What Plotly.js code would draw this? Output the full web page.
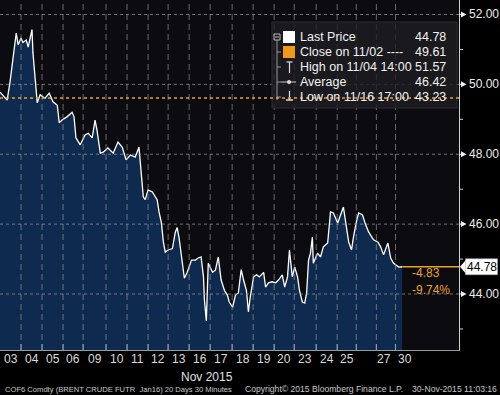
<!DOCTYPE html>
<html><head><meta charset="utf-8">
<script src="https://cdn.plot.ly/plotly-3.0.1.min.js"></script>
<style>html,body{margin:0;padding:0;background:#000;overflow:hidden}#chart{width:500px;height:395px}</style>
</head><body><div id="chart"></div>
<script>
// ---- data ----
const days = ['03','04','05','06','09','10','11','12','13','16','17','18','19','20','23','24','25','26','27','30'];
const tickLabels = ['03','04','05','06','09','10','11','12','13','16','17','18','19','20','23','24','25','','27','30'];
const barsPerDay = [44,44,44,42,48,44,44,42,44,44,46,44,44,42,46,44,40,42,40,15];
const bar = [0,15,21,27,34,38,44,48,55,59,67,69,75,78,84,94,103,111,120,124,130,140,151,155,159,168,178,185,193,199,203,210,216,226,237,247,256,264,273,283,291,296,300,304,310,319,325,329,333,338,342,346,352,361,367,371,375,382,386,392,401,409,415,421,426,428,432,436,445,451,457,463,470,476,480,487,493,499,505,510,516,520,524,531,537,543,552,556,562,570,577,583,591,596,602,606,612,617,623,627,633,638,642,646,650,654,656,665,671,677,686,692,698,707,713,719,723,730,736,740,747,751,759,765,772,782,791,797,803,812,818,824,835,842];
const price = [49.78,49.55,50.07,50.70,51.47,51.13,51.33,51.20,51.27,51.07,51.57,50.90,49.75,49.47,49.70,49.60,49.75,49.50,49.40,48.90,48.98,49.07,49.20,49.07,48.47,48.27,48.55,48.60,48.47,48.98,48.70,48.03,48.06,48.18,48.03,48.35,48.20,47.84,47.98,47.92,48.20,47.35,46.78,46.70,46.98,46.92,46.78,46.70,46.35,46.03,45.49,45.20,45.26,45.30,45.77,45.90,45.60,44.88,44.45,44.62,44.97,44.97,45.03,45.06,44.49,43.83,43.23,44.88,44.62,44.68,45.06,44.40,44.10,43.97,43.77,43.62,43.97,44.03,44.70,44.40,44.10,43.49,43.92,44.49,44.55,44.49,44.62,44.20,44.32,44.35,44.32,44.40,44.55,44.20,44.49,45.26,44.49,44.77,44.49,44.10,43.77,43.74,44.03,44.97,45.17,45.63,44.88,45.17,45.06,45.35,45.46,46.35,46.32,46.03,46.26,46.49,46.12,45.49,45.26,45.63,46.12,46.32,46.26,46.00,45.77,45.55,45.49,45.35,45.12,45.46,45.03,44.88,44.77,44.78];
const yTicks = [44,46,48,50,52];
const yTickText = ['44.00','46.00','48.00','50.00','52.00'];
const yMinorTicks = [43,45,47,49,51];
const lastPrice = 44.78, closePrev = 49.61;
const changeAbs = '-4.83', changePct = '-9.74%';
const legendRows = [
  ['Last Price', '44.78'],
  ['Close on 11/02 ----', '49.61'],
  ['High on 11/04 14:00', '51.57'],
  ['Average', '46.42'],
  ['Low on 11/16 17:00', '43.23']
];
const footer = ['COF6 Comdty (BRENT CRUDE FUTR  Jan16) 20 Days 30 Minutes', 'Copyright\u00a9 2015 Bloomberg Finance L.P.', '30-Nov-2015 11:03:16'];

// ---- layout geometry ----
const W = 500, H = 395, mR = 41, mB = 45;
const plotW = W - mR, plotH = H - mB;
const xMax = 961, yMin = 42.397, yMax = 52.415;
const px = v => v / plotW;                 // pixel x -> paper
const py = v => (plotH - v) / plotH;       // pixel y -> paper
const yPix = v => (yMax - v) / (yMax - yMin) * plotH;  // value -> pixel y

const starts = [];
let acc = 0;
barsPerDay.forEach(b => { starts.push(acc); acc += b; });
const lastBar = bar[bar.length - 1];

const FONT = 'Liberation Sans, Arial, sans-serif';
const ORANGE = '#eca130';
const P = {xref:'paper', yref:'paper', layer:'above'};

const shapes = [];
// vertical day gridlines
starts.slice(1).forEach(s => shapes.push({type:'line', xref:'x', yref:'paper', x0:s, x1:s, y0:0, y1:1,
  line:{color:'rgba(140,140,140,0.75)', width:1, dash:'6px,4px'}, layer:'above'}));
// horizontal gridlines
yTicks.forEach(t => shapes.push({type:'line', xref:'paper', yref:'y', x0:0, x1:1, y0:t, y1:t,
  line:{color:'rgba(150,150,150,0.75)', width:1, dash:'3px,3px'}, layer:'above'}));
// bottom tick marks at day starts
starts.slice(1).forEach(s => shapes.push({type:'line', xref:'x', yref:'paper', ysizemode:'pixel', yanchor:0,
  x0:s, x1:s, y0:0, y1:6, line:{color:'#9aa3b0', width:1}, layer:'above'}));
// legend box
shapes.push({...P, type:'rect', x0:px(272), x1:px(457), y0:py(108), y1:py(22),
  fillcolor:'rgba(28,28,34,0.82)', line:{color:'#2c2c32', width:1}});
// legend tree
shapes.push({...P, type:'line', x0:px(277), x1:px(277), y0:py(40), y1:py(100), line:{color:'#999', width:1}});
shapes.push({...P, type:'rect', x0:px(274), x1:px(280), y0:py(40), y1:py(34), fillcolor:'rgba(0,0,0,0)', line:{color:'#bbb', width:1}});
shapes.push({...P, type:'line', x0:px(275), x1:px(279), y0:py(37), y1:py(37), line:{color:'#bbb', width:1}});
[52,67,82,97].forEach(r => shapes.push({...P, type:'line', x0:px(277), x1:px(281), y0:py(r), y1:py(r), line:{color:'#999', width:1}}));
// legend icons
shapes.push({...P, type:'rect', x0:px(283), x1:px(295), y0:py(43), y1:py(31), fillcolor:'#ffffff', line:{width:0}});
shapes.push({...P, type:'rect', x0:px(283), x1:px(295), y0:py(58), y1:py(46), fillcolor:'#f09a1a', line:{width:0}});
shapes.push({...P, type:'line', x0:px(289.5), x1:px(289.5), y0:py(73), y1:py(62), line:{color:'#ddd', width:1.2}});
shapes.push({...P, type:'line', x0:px(286.5), x1:px(292.5), y0:py(62), y1:py(62), line:{color:'#ddd', width:1.2}});
shapes.push({...P, type:'line', x0:px(281), x1:px(296), y0:py(82), y1:py(82), line:{color:'#ccc', width:1}});
shapes.push({...P, type:'circle', x0:px(287), x1:px(291), y0:py(84), y1:py(80), fillcolor:'#ddd', line:{width:0}});
shapes.push({...P, type:'line', x0:px(289.5), x1:px(289.5), y0:py(100), y1:py(91), line:{color:'#ddd', width:1.2}});
shapes.push({...P, type:'line', x0:px(286), x1:px(293), y0:py(100), y1:py(100), line:{color:'#ddd', width:1.5}});
// previous close dotted line
shapes.push({type:'line', xref:'paper', yref:'y', x0:0, x1:1, y0:closePrev, y1:closePrev,
  line:{color:ORANGE, width:1.6, dash:'dot'}, layer:'above'});
// last price guide line
shapes.push({type:'line', xref:'x', yref:'y', x0:lastBar, x1:xMax, y0:lastPrice, y1:lastPrice,
  line:{color:ORANGE, width:1.3}, layer:'above'});
// y tick arrows
const tri = (xa, xb, yc, h) => `M${px(xa)},${py(yc - h)} L${px(xb)},${py(yc)} L${px(xa)},${py(yc + h)} Z`;
yTicks.forEach(t => {
  const yc = yPix(t);
  shapes.push({...P, type:'line', x0:px(459), x1:px(462), y0:py(yc), y1:py(yc), line:{color:'#e8e8e8', width:1}});
  shapes.push({...P, type:'path', path:tri(461, 466.5, yc, 3), fillcolor:'#f0f0f0', line:{width:0}});
});
// y minor ticks
yMinorTicks.forEach(t => {
  const yc = yPix(t);
  shapes.push({...P, type:'line', x0:px(459), x1:px(463), y0:py(yc), y1:py(yc), line:{color:'#d0d0d0', width:1}});
});
// last price tag (box + left arrow)
const lpY = yPix(lastPrice);
shapes.push({...P, type:'path', path:`M${px(460)},${py(lpY)} L${px(466)},${py(lpY - 7)} L${px(466)},${py(lpY + 7)} Z`, fillcolor:'#ffffff', line:{width:0}});
shapes.push({...P, type:'rect', x0:px(465.5), x1:px(497.5), y0:py(lpY + 8), y1:py(lpY - 8), fillcolor:'#ffffff', line:{color:'#aaa', width:0.5}});

const annotations = [];
legendRows.forEach((r, i) => {
  const yy = py(37 + 15 * i);
  annotations.push({xref:'paper', yref:'paper', x:px(298), y:yy, xanchor:'left', yanchor:'middle', showarrow:false,
    text:r[0], font:{family:FONT, size:12.5, color:'#f2f2f2'}});
  annotations.push({xref:'paper', yref:'paper', x:px(448), y:yy, xanchor:'right', yanchor:'middle', showarrow:false,
    text:r[1], font:{family:FONT, size:12.5, color:'#f2f2f2'}});
});
// x tick labels: centred in each full session; the short last session label starts at its open
starts.forEach((s, i) => {
  if (!tickLabels[i]) return;
  const partial = barsPerDay[i] < 30;
  const nudge = (i === days.length - 2) ? -2 : 0;
  annotations.push({xref:'x', yref:'paper', x: partial ? s : s + barsPerDay[i] / 2, y:py(359),
    xanchor: partial ? 'left' : 'center', xshift: partial ? 1 : nudge, yanchor:'middle',
    showarrow:false, text:tickLabels[i], font:{family:FONT, size:12, color:'#dcdcdc'}});
});
// y tick labels
yTicks.forEach((t, i) => annotations.push({xref:'paper', yref:'paper', x:px(467), y:py(yPix(t)), xanchor:'left', yanchor:'middle',
  showarrow:false, text:yTickText[i], font:{family:FONT, size:12, color:'#ececec'}}));
annotations.push({xref:'paper', yref:'paper', x:px(481.5), y:py(lpY), xanchor:'center', yanchor:'middle', showarrow:false,
  text:lastPrice.toFixed(2), font:{family:FONT, size:12, color:'#000'}});
annotations.push({xref:'paper', yref:'paper', x:px(410), y:py(273), xanchor:'left', yanchor:'middle', showarrow:false,
  text:changeAbs, font:{family:FONT, size:12, color:ORANGE}});
annotations.push({xref:'paper', yref:'paper', x:px(410), y:py(290), xanchor:'left', yanchor:'middle', showarrow:false,
  text:changePct, font:{family:FONT, size:12, color:ORANGE}});
annotations.push({xref:'paper', yref:'paper', x:px(207), y:py(377), xanchor:'center', yanchor:'middle', showarrow:false,
  text:'Nov 2015', font:{family:FONT, size:12, color:'#e0e0e0'}});
[[3, 7.6], [243, 8.6], [410, 8.6]].forEach((f, i) => annotations.push({xref:'paper', yref:'paper',
  x:px(f[0]), y:py(389), xanchor:'left', yanchor:'middle', showarrow:false, text:footer[i],
  font:{family:FONT, size:f[1], color:'#c8c8c8'}}));

const traces = [
  {type:'scatter', mode:'lines', x:bar, y:price, fill:'tozeroy', fillcolor:'#0e2b4f',
   line:{color:'#ffffff', width:1.3}, hoverinfo:'skip'}
];

const layout = {
  width:W, height:H, margin:{l:0, r:mR, t:0, b:mB, pad:0},
  paper_bgcolor:'#000000', plot_bgcolor:'#0b0b10', showlegend:false,
  xaxis:{range:[0, xMax], showgrid:false, zeroline:false, showticklabels:false, ticks:'',
    showline:true, linecolor:'#9a9a9a', linewidth:1, fixedrange:true},
  yaxis:{range:[yMin, yMax], side:'right', showgrid:false, zeroline:false, showticklabels:false, ticks:'',
    showline:true, linecolor:'#d0d0d0', linewidth:1, fixedrange:true},
  shapes:shapes, annotations:annotations
};

Plotly.newPlot('chart', traces, layout, {staticPlot:true, displayModeBar:false});
</script></body></html>
